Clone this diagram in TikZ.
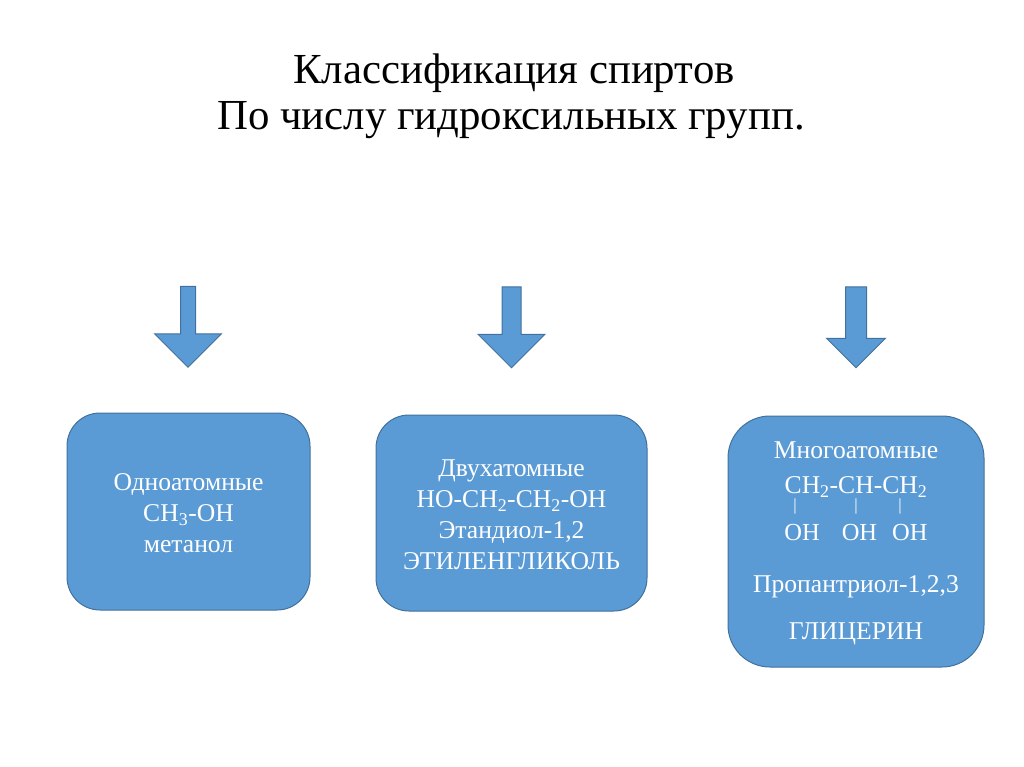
\documentclass[tikz,border=0pt]{standalone}
\usepackage{fontspec}
\setmainfont{Liberation Serif}
\usetikzlibrary{positioning, shapes.arrows}
\definecolor{boxblue}{HTML}{5B9BD5}
\definecolor{boxedge}{HTML}{41719C}
\newcommand{\toppad}{\rule{0pt}{21pt}}
\tikzset{
  boxnode/.style={draw=boxedge, fill=boxblue, line width=1pt, rounded corners=33pt, align=center, text=white, font=\fontsize{25.6}{31}\selectfont},
  arrownode/.style={single arrow, shape border rotate=270, draw=boxedge, fill=boxblue, line width=1pt, minimum height=81pt, minimum width=66pt, inner sep=0pt},
  barnode/.style={text=white, inner sep=0pt, font=\fontsize{17}{17}\selectfont}
}
\begin{document}
\begin{tikzpicture}[x=1pt, y=-1pt, node distance=1pt, on grid]
      \useasboundingbox (0,0) rectangle (1024,767);
      \node[align=center, font=\fontsize{42.8}{46}\selectfont] (title) at (511,96) {\hspace*{6pt}Классификация спиртов\\По числу гидроксильных групп.};
      % boxes
      \node[boxnode, minimum width=243pt, minimum height=197pt] (one) at (188.5,511.5) {\toppad Одноатомные\\CH\textsubscript{3}-OH\\метанол};
      \node[boxnode, minimum width=271pt, minimum height=196pt, right=323pt of one, yshift=-1.5pt] (two) {\toppad Двухатомные\\HO-CH\textsubscript{2}-CH\textsubscript{2}-OH\\Этандиол-1,2\\ЭТИЛЕНГЛИКОЛЬ};
      \node[boxnode, rounded corners=42pt, minimum width=256pt, minimum height=251pt, right=344.5pt of two, yshift=-28.5pt] (many) {\toppad Многоатомные\\[4pt]CH\textsubscript{2}-CH-CH\textsubscript{2}\\[16pt]{\fontsize{24.5}{31}\selectfont OH\hspace{22pt}OH\hspace{15pt}OH}\\[21pt]Пропантриол-1,2,3\\[16pt]ГЛИЦЕРИН};
      % arrows
      \node[arrownode, single arrow head extend=26pt, text width=14pt, above=188.5pt of one, xshift=-0.5pt] (arrow1) {};
      \node[arrownode, single arrow head extend=24pt, text width=18pt, above=190.5pt of two] (arrow2) {};
      \node[arrownode, single arrow head extend=19pt, text width=20pt, minimum width=58pt, above=219.5pt of many] (arrow3) {};
      % bonds
      \node[barnode] (bar1) at (795,506.5) {|};
      \node[barnode, right=61pt of bar1] (bar2) {|};
      \node[barnode, right=44pt of bar2] (bar3) {|};
\end{tikzpicture}
\end{document}
